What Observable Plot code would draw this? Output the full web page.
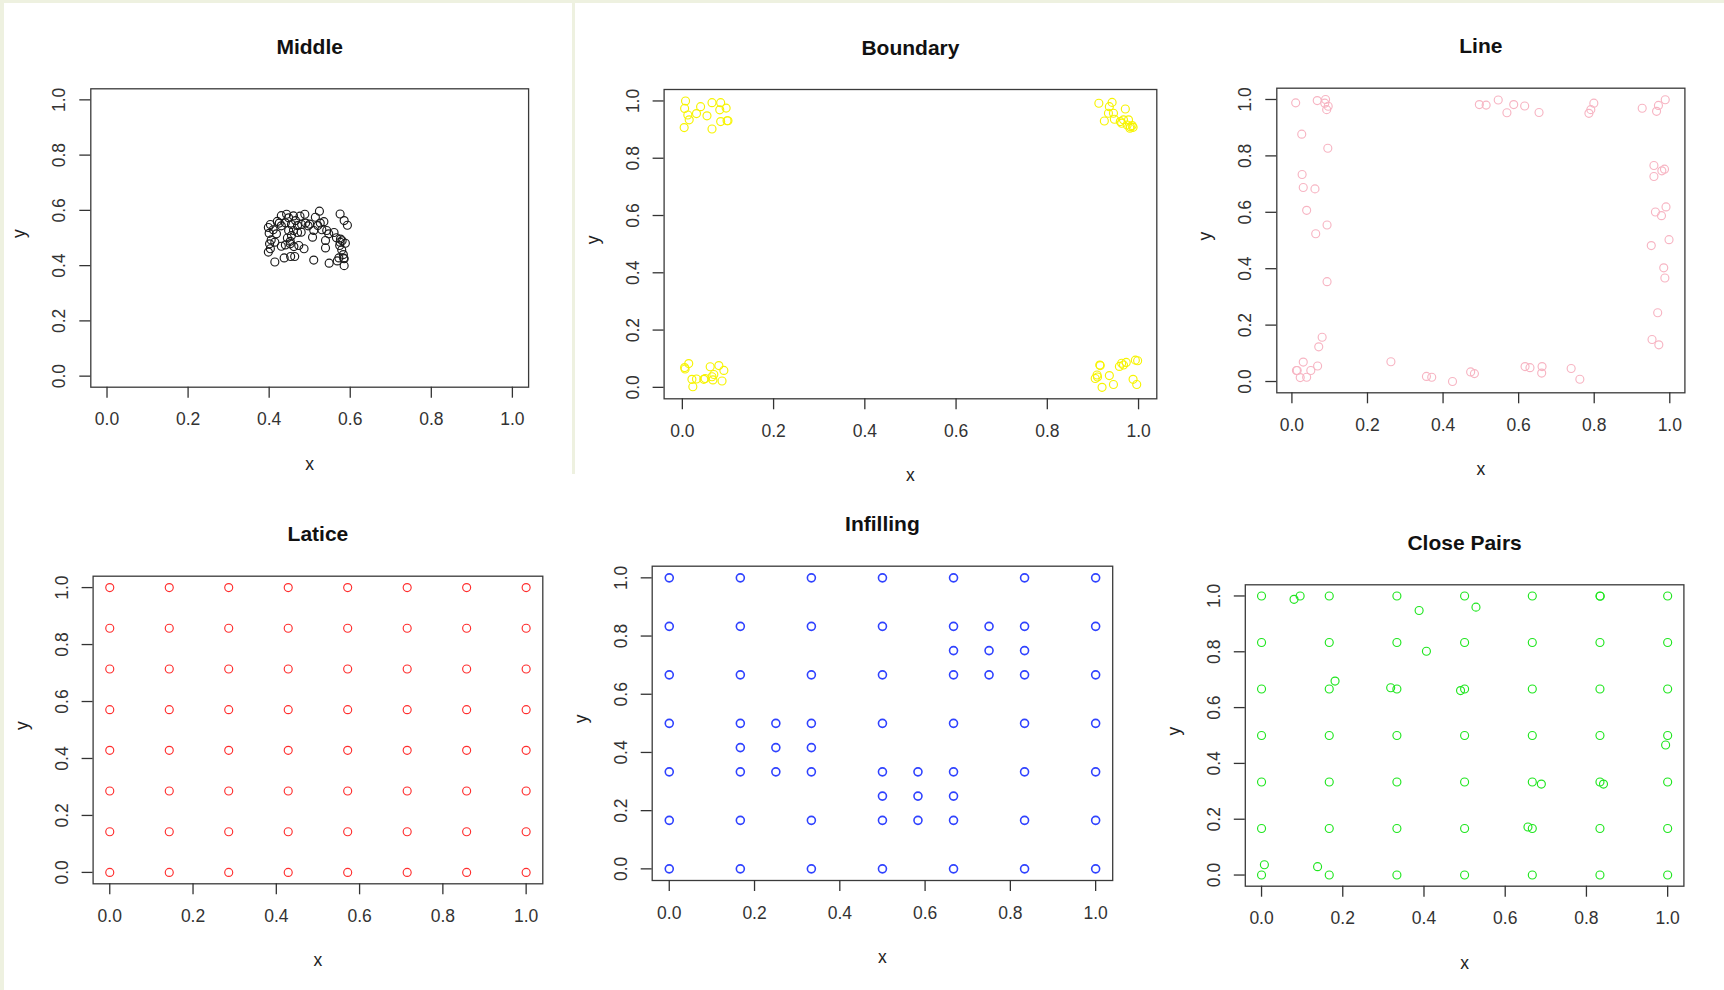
<!DOCTYPE html>
<html><head><meta charset="utf-8">
<script src="https://cdn.jsdelivr.net/npm/d3@7"></script>
<script src="https://cdn.jsdelivr.net/npm/@observablehq/plot@0.6"></script>
<style>
html,body{margin:0;padding:0;background:#fff;width:1724px;height:990px;overflow:hidden;position:relative;font-family:"Liberation Sans",Arial,sans-serif;}
.bg{position:absolute;background:#eef1e0;}
.panel{position:absolute;}
</style></head><body>
<div class="bg" style="left:0;top:0;width:1724px;height:3px"></div>
<div class="bg" style="left:0;top:0;width:4px;height:990px"></div>
<div class="bg" style="left:572px;top:0;width:3px;height:474px"></div>
<script>
// ---------- data ----------
const tickValues = [0, 0.2, 0.4, 0.6, 0.8, 1.0];
const tickLabels = ["0.0", "0.2", "0.4", "0.6", "0.8", "1.0"];
const titles = ["Middle", "Boundary", "Line", "Latice", "Infilling", "Close Pairs"];

const middleX = [0.524,0.488,0.575,0.585,0.593,0.443,0.430,0.476,0.448,0.514,0.403,0.398,0.425,0.430,0.465,0.455,0.490,0.496,0.480,0.526,0.535,0.530,0.542,0.547,0.510,0.507,0.400,0.418,0.448,0.460,0.479,0.455,0.405,0.414,0.401,0.403,0.398,0.452,0.452,0.461,0.473,0.486,0.539,0.539,0.566,0.576,0.588,0.574,0.579,0.572,0.584,0.568,0.585,0.548,0.510,0.414,0.437,0.453,0.463,0.410,0.440,0.470,0.500,0.445,0.430,0.560,0.520,0.580,0.583,0.460,0.420,0.470,0.440,0.585,0.575];
const middleY = [0.597,0.586,0.587,0.563,0.546,0.586,0.581,0.579,0.573,0.575,0.549,0.538,0.554,0.544,0.563,0.549,0.554,0.544,0.549,0.554,0.559,0.530,0.527,0.515,0.527,0.503,0.517,0.515,0.527,0.527,0.521,0.509,0.493,0.485,0.479,0.461,0.449,0.488,0.479,0.469,0.473,0.461,0.491,0.464,0.501,0.496,0.481,0.473,0.457,0.428,0.427,0.417,0.400,0.409,0.420,0.413,0.428,0.433,0.433,0.530,0.555,0.545,0.550,0.500,0.470,0.520,0.545,0.490,0.440,0.580,0.560,0.520,0.475,0.425,0.485];

const boundaryX = [0.007,0.005,0.012,0.015,0.004,0.031,0.040,0.054,0.065,0.065,0.084,0.082,0.096,0.084,0.098,0.100,
  0.913,0.942,0.936,0.971,0.934,0.945,0.925,0.947,0.960,0.967,0.978,0.963,0.975,0.982,0.986,0.981,0.988,
  0.014,0.005,0.006,0.021,0.023,0.031,0.047,0.050,0.061,0.080,0.091,0.069,0.067,0.087,0.065,
  0.915,0.916,0.909,0.905,0.910,0.920,0.936,0.945,0.958,0.963,0.967,0.973,0.993,0.998,0.988,0.996];
const boundaryY = [1.000,0.974,0.951,0.934,0.907,0.956,0.980,0.948,0.994,0.902,0.994,0.969,0.975,0.928,0.931,0.931,
  0.992,0.995,0.980,0.972,0.957,0.957,0.930,0.936,0.928,0.934,0.934,0.922,0.916,0.910,0.914,0.905,0.908,
  0.083,0.069,0.064,0.028,0.002,0.029,0.028,0.031,0.072,0.076,0.059,0.045,0.026,0.022,0.037,
  0.078,0.076,0.043,0.031,0.036,0.000,0.041,0.010,0.073,0.084,0.078,0.087,0.095,0.093,0.028,0.010];

const lineX = [0.010,0.067,0.089,0.087,0.096,0.092,0.026,0.095,0.027,0.030,0.061,0.039,0.063,0.093,0.093,0.080,0.071,0.030,0.012,0.014,0.022,0.039,0.050,0.068,
  0.496,0.514,0.546,0.569,0.587,0.616,0.654,0.786,0.791,0.799,0.927,0.965,0.970,0.988,
  0.958,0.958,0.979,0.986,0.962,0.990,0.978,0.951,0.998,0.984,0.987,0.968,0.953,0.971,
  0.262,0.356,0.370,0.425,0.473,0.483,0.617,0.630,0.662,0.661,0.739,0.762];
const lineY = [0.988,0.996,1.000,0.987,0.976,0.964,0.877,0.827,0.734,0.688,0.683,0.607,0.524,0.555,0.354,0.157,0.123,0.069,0.039,0.039,0.014,0.015,0.039,0.055,
  0.982,0.980,0.998,0.953,0.982,0.977,0.954,0.951,0.964,0.987,0.969,0.958,0.979,0.999,
  0.766,0.727,0.747,0.753,0.601,0.619,0.588,0.482,0.503,0.403,0.367,0.244,0.149,0.130,
  0.070,0.018,0.015,0.000,0.034,0.028,0.053,0.049,0.053,0.030,0.046,0.008];

const laticeLevels = [0, 0.1429, 0.2857, 0.4286, 0.5714, 0.7143, 0.8571, 1];

const sixthLevels = [0, 0.1667, 0.3333, 0.5, 0.6667, 0.8333, 1];
const infillX = [0.25,0.1667,0.25,0.3333,0.25, 0.5833,0.5,0.5833,0.6667,0.5833, 0.75,0.6667,0.75,0.8333,0.75];
const infillY = [0.5,0.4167,0.4167,0.4167,0.3333, 0.1667,0.25,0.25,0.25,0.3333, 0.6667,0.75,0.75,0.75,0.8333];

const pairsX = [0.080,0.095,0.388,0.528,0.834,0.406,0.181,0.318,0.490,0.995,0.689,0.842,0.656,0.007,0.138];
const pairsY = [0.988,1.000,0.948,0.960,0.999,0.802,0.695,0.671,0.661,0.466,0.326,0.326,0.172,0.037,0.030];

// ---------- tables built from the arrays ----------
const zipXY = (xs, ys) => xs.map((x, i) => ({x, y: ys[i]}));
const gridXY = (levels) => d3.cross(levels, levels, (x, y) => ({x, y}));

const FONT = '"Liberation Sans", Arial, Helvetica, sans-serif';

function panel({title, data, color, box, rect, sw = 1.15}) {
  const [L, T, R, B] = box;
  const [sx, sy, w, h] = rect;
  const fmt = d => tickLabels[tickValues.indexOf(d)];
  const svg = Plot.plot({
    width: w, height: h,
    marginLeft: L - sx, marginTop: T - sy, marginRight: sx + w - R, marginBottom: sy + h - B,
    x: {domain: [-0.04, 1.04]},
    y: {domain: [-0.04, 1.04]},
    style: {fontFamily: FONT, fontSize: "17.5px", color: "#333", background: "transparent", overflow: "visible"},
    marks: [
      Plot.frame({stroke: "#3a3a3a", strokeWidth: 1.3}),
      Plot.dot(data, {x: "x", y: "y", r: 4, stroke: color, strokeWidth: sw, fill: "none"}),
      Plot.axisX(tickValues, {anchor: "bottom", tickSize: 11, tickPadding: 21.5, lineAnchor: "middle", tickFormat: fmt, fontSize: 17.5, label: null, strokeWidth: 1.3}),
      Plot.axisY(tickValues, {anchor: "left", tickSize: 11, tickPadding: 20, tickRotate: -90, textAnchor: "middle", lineAnchor: "middle", tickFormat: fmt, fontSize: 17.5, label: null, strokeWidth: 1.3}),
      Plot.text([title], {text: d => d, frameAnchor: "top", dy: -35, lineAnchor: "bottom", fontWeight: "bold", fontSize: 21, fill: "#111"}),
      Plot.text(["x"], {text: d => d, frameAnchor: "bottom", dy: 77, lineAnchor: "middle", fontSize: 17.5, fill: "#222"}),
      Plot.text(["y"], {text: d => d, frameAnchor: "left", dx: -71, rotate: -90, lineAnchor: "middle", fontSize: 17.5, fill: "#222"})
    ]
  });
  svg.classList.add("panel");
  svg.style.left = sx + "px";
  svg.style.top = sy + "px";
  document.body.appendChild(svg);
}

panel({title: titles[0], data: zipXY(middleX, middleY), color: "#1a1a1a", box: [90.3, 88.3, 528.1, 386.7], rect: [0, 0, 572, 490]});
panel({title: titles[1], data: zipXY(boundaryX, boundaryY), color: "#f7f400", box: [663.6, 89, 1156.3, 398.3], rect: [575, 0, 585, 490]});
panel({title: titles[2], data: zipXY(lineX, lineY), color: "#f7b5c3", box: [1276.3, 87.7, 1684.4, 392.3], rect: [1160, 0, 564, 490]});
panel({title: titles[3], data: gridXY(laticeLevels), color: "#ff2e2e", box: [92.6, 575.7, 542.3, 883.3], rect: [0, 490, 580, 500]});
panel({title: titles[4], data: gridXY(sixthLevels).concat(zipXY(infillX, infillY)), color: "#2f42ff", sw: 1.6, box: [651.7, 565.7, 1112.2, 880], rect: [580, 490, 550, 500]});
panel({title: titles[5], data: gridXY(sixthLevels).concat(zipXY(pairsX, pairsY)), color: "#1fe61f", box: [1244.8, 584.3, 1683.4, 885.7], rect: [1130, 490, 594, 500]});
</script>
</body></html>
